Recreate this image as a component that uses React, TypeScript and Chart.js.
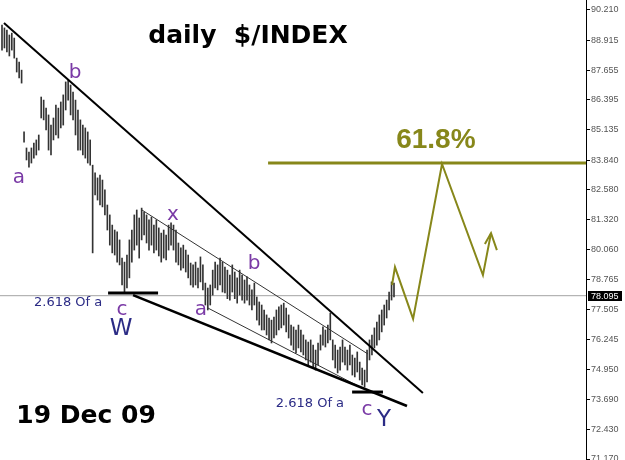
import React, { useEffect, useRef } from "react";
import { Chart, registerables } from "chart.js";
Chart.register(...registerables);

// ---- data (daily bars: high / low) ----
const highs = [
  89.57, 89.45, 89.36, 89.15, 89.23, 89.02, 88.17, 88.0, 87.66, 85.04,
  84.36, 84.19, 84.36, 84.57, 84.7, 84.91, 86.52, 86.39, 86.05, 85.76,
  85.33, 85.63, 86.18, 86.05, 86.31, 86.61, 87.16, 87.24, 87.03, 86.73,
  86.39, 85.97, 85.55, 85.33, 85.21, 85.04, 84.7, 83.63, 83.3, 83.09,
  83.21, 83.0, 82.58, 81.94, 81.52, 81.09, 80.88, 80.8, 80.46, 79.69,
  79.52, 79.82, 80.46, 80.88, 81.52, 81.73, 81.39, 81.81, 81.64, 81.52,
  81.31, 81.43, 81.09, 81.31, 80.97, 80.75, 80.88, 80.67, 81.09, 81.18,
  81.09, 80.88, 80.33, 80.12, 80.24, 80.03, 79.82, 79.48, 79.4, 79.52,
  79.27, 79.74, 79.4, 78.63, 78.42, 78.55, 79.18, 79.52, 79.4, 79.69,
  79.52, 79.31, 79.18, 78.97, 79.4, 79.1, 78.85, 79.18, 78.97, 78.76,
  78.89, 78.55, 78.34, 78.63, 78.04, 77.83, 77.7, 77.49, 77.28, 77.15,
  77.06, 77.19, 77.49, 77.62, 77.7, 77.78, 77.57, 77.28, 76.85, 76.77,
  76.64, 76.85, 76.64, 76.43, 76.22, 76.13, 76.22, 76.0, 75.79, 76.09,
  76.43, 76.77, 76.64, 76.85, 77.36, 76.22, 76.0, 75.79, 75.92, 76.22,
  75.92, 75.79, 76.0, 75.58, 75.45, 75.71, 75.28, 75.03, 74.94, 75.79,
  76.22, 76.43, 76.73, 76.98, 77.28, 77.49, 77.7, 77.91, 78.25, 78.68, 78.63,
];
const lows = [
  88.51, 88.6, 88.43, 88.26, 88.51, 88.17, 87.58, 87.33, 87.11, 84.61,
  83.85, 83.55, 83.72, 83.93, 84.06, 84.27, 85.63, 85.55, 85.12, 84.27,
  84.06, 84.7, 84.91, 84.78, 85.21, 85.33, 85.97, 86.39, 85.76, 85.55,
  84.91, 84.27, 84.27, 84.06, 83.93, 83.72, 83.63, 79.91, 82.37, 82.15,
  81.94, 81.86, 81.52, 80.88, 80.24, 79.91, 79.82, 79.52, 79.4, 78.55,
  78.25, 78.42, 78.85, 79.52, 80.03, 80.24, 79.69, 80.46, 80.67, 80.33,
  80.03, 80.24, 79.91, 80.03, 79.78, 79.52, 79.69, 79.61, 80.03, 80.24,
  80.03, 79.52, 79.4, 79.18, 79.27, 79.1, 78.85, 78.55, 78.46, 78.55,
  78.42, 78.68, 78.34, 77.7, 77.49, 77.7, 78.12, 78.42, 78.34, 78.55,
  78.25, 78.21, 77.97, 77.91, 78.25, 77.97, 77.78, 78.12, 77.91, 77.78,
  77.91, 77.7, 77.49, 77.7, 77.06, 76.85, 76.64, 76.64, 76.43, 76.22,
  76.09, 76.3, 76.43, 76.64, 76.73, 76.85, 76.56, 76.3, 76.0, 75.79,
  75.67, 75.88, 75.71, 75.58, 75.37, 75.16, 75.28, 75.03, 74.94, 75.16,
  75.79, 76.0, 75.92, 76.09, 76.22, 75.37, 75.03, 74.82, 74.94, 75.28,
  75.16, 74.94, 75.16, 74.73, 74.65, 74.86, 74.52, 74.31, 74.22, 74.44,
  75.37, 75.58, 75.88, 76.0, 76.22, 76.56, 76.85, 77.15, 77.49, 77.91, 78.04,
];
const yTicks = [
  90.21, 88.915, 87.655, 86.395, 85.135, 83.84, 82.58, 81.32, 80.06,
  78.765, 77.505, 76.245, 74.95, 73.69, 72.43, 71.17,
];
const lastPrice = 78.095;
const fibLevel = 83.72;
const yMin = 71.128;
const yMax = 90.634;
const xMin = -0.816;
const xMax = 238.37;

// annotation lines (bar index, price)
const upperTrend = [{ x: 0.8, y: 89.66 }, { x: 171.8, y: 73.97 }];
const lowerTrend = [{ x: 53.5, y: 78.12 }, { x: 165.3, y: 73.42 }];
const channelTop = [{ x: 57.1, y: 81.73 }, { x: 149.4, y: 75.62 }];
const channelBottom = [{ x: 84.1, y: 77.57 }, { x: 146.9, y: 74.18 }];
const lowW = [{ x: 43.3, y: 78.21 }, { x: 63.7, y: 78.21 }];
const lowY = [{ x: 142.9, y: 74.01 }, { x: 155.5, y: 74.01 }];
const fibLine = [{ x: 108.6, y: fibLevel }, { x: xMax, y: fibLevel }];
const priceLine = [{ x: xMin, y: lastPrice }, { x: xMax, y: lastPrice }];
const projection = [
  { x: 159.2, y: 78.55 }, { x: 160.4, y: 79.31 }, { x: 167.8, y: 77.11 },
  { x: 179.6, y: 83.68 }, { x: 196.3, y: 78.97 }, { x: 199.6, y: 80.75 },
];
const arrowHead = [{ x: 197.1, y: 80.29 }, { x: 199.6, y: 80.75 }, { x: 202.0, y: 80.03 }];

const PURPLE = "#7a3aa6";
const NAVY = "#2b2b85";
const OLIVE = "#87871a";

const labels = [
  { text: "daily  $/INDEX", x: 100.4, y: 89.07, color: "#000", font: 'bold 25px "DejaVu Sans"' },
  { text: "19 Dec 09", x: 34.3, y: 72.99, color: "#000", font: 'bold 25px "DejaVu Sans"' },
  { text: "61.8%", x: 177.1, y: 84.7, color: OLIVE, font: 'bold 28px "Liberation Sans"' },
  { text: "a", x: 6.94, y: 83.09, color: PURPLE, font: '20px "DejaVu Sans"' },
  { text: "b", x: 29.8, y: 87.54, color: PURPLE, font: '20px "DejaVu Sans"' },
  { text: "x", x: 69.8, y: 81.52, color: PURPLE, font: '20px "DejaVu Sans"' },
  { text: "b", x: 102.9, y: 79.44, color: PURPLE, font: '20px "DejaVu Sans"' },
  { text: "a", x: 81.2, y: 77.49, color: PURPLE, font: '20px "DejaVu Sans"' },
  { text: "c", x: 49.0, y: 77.49, color: PURPLE, font: '20px "DejaVu Sans"' },
  { text: "c", x: 149.0, y: 73.25, color: PURPLE, font: '20px "DejaVu Sans"' },
  { text: "W", x: 48.6, y: 76.68, color: NAVY, font: '23px "DejaVu Sans"' },
  { text: "Y", x: 155.9, y: 72.82, color: NAVY, font: '23px "DejaVu Sans"' },
  { text: "2.618 Of a", x: 27.0, y: 77.79, color: NAVY, font: '13px "DejaVu Sans"' },
  { text: "2.618 Of a", x: 125.7, y: 73.5, color: NAVY, font: '13px "DejaVu Sans"' },
];

const lineDs = (data: any[], color: string, width: number, order: number) => ({
  type: "line" as const,
  data,
  borderColor: color,
  borderWidth: width,
  pointRadius: 0,
  tension: 0,
  fill: false,
  order,
});

const overlay = {
  id: "overlay",
  afterDatasetsDraw(chart: any) {
    const { ctx, scales } = chart;
    const xs = scales.x;
    const ys = scales.y;
    ctx.save();
    ctx.textAlign = "center";
    ctx.textBaseline = "middle";
    for (const t of labels) {
      ctx.font = t.font;
      ctx.fillStyle = t.color;
      ctx.fillText(t.text, xs.getPixelForValue(t.x), ys.getPixelForValue(t.y));
    }
    ctx.restore();
  },
  afterDraw(chart: any) {
    const { ctx, scales } = chart;
    const ys = scales.y;
    const py = Math.round(ys.getPixelForValue(lastPrice));
    ctx.save();
    ctx.fillStyle = "#000";
    ctx.fillRect(ys.left + 2, py - 5, 34, 10);
    ctx.fillStyle = "#fff";
    ctx.font = '9px "Liberation Sans"';
    ctx.textAlign = "left";
    ctx.textBaseline = "middle";
    ctx.fillText(lastPrice.toFixed(3), ys.left + 5, py + 0.5);
    ctx.restore();
  },
};

export default function App() {
  const ref = useRef<HTMLCanvasElement>(null);
  useEffect(() => {
    if (!ref.current) return;
    const bars = highs.map((h, i) => ({ x: i, y: [lows[i], h] }));
    const chart = new Chart(ref.current, {
      type: "bar",
      data: {
        datasets: [
          lineDs(priceLine, "#a3a3a3", 1, 10) as any,
          {
            type: "bar",
            data: bars as any,
            backgroundColor: "#333",
            barThickness: 1,
            order: 5,
          },
          lineDs(upperTrend, "#000", 2, 2),
          lineDs(lowerTrend, "#000", 2.6, 2),
          lineDs(channelTop, "#333", 1, 3),
          lineDs(channelBottom, "#333", 1, 3),
          lineDs(lowW, "#000", 3, 2),
          lineDs(lowY, "#000", 3, 2),
          lineDs(fibLine, OLIVE, 3, 1),
          lineDs(projection, OLIVE, 2, 1),
          lineDs(arrowHead, OLIVE, 2, 1),
        ],
      },
      options: {
        animation: false,
        responsive: false,
        events: [],
        layout: { padding: 0 },
        plugins: { legend: { display: false }, tooltip: { enabled: false } },
        scales: {
          x: { type: "linear", min: xMin, max: xMax, display: false, offset: false, grid: { offset: false } },
          y: {
            position: "right",
            min: yMin,
            max: yMax,
            afterBuildTicks: (axis: any) => {
              axis.ticks = yTicks.map((v) => ({ value: v }));
            },
            afterFit: (axis: any) => {
              axis.width = 39;
              axis.paddingTop = 0;
              axis.paddingBottom = 0;
            },
            ticks: {
              autoSkip: false,
              padding: 1,
              color: "#555",
              font: { family: "Liberation Sans", size: 9 },
              callback: (v: any) => Number(v).toFixed(3),
            },
            grid: { drawOnChartArea: false, tickLength: 4, color: "#000" },
            border: { color: "#000", width: 1 },
          },
        },
      },
      plugins: [overlay],
    });
    return () => chart.destroy();
  }, []);
  return (
    <div style={{ position: "absolute", left: 0, top: 0, width: 625, height: 460, background: "#fff" }}>
      <canvas ref={ref} width={625} height={460} style={{ display: "block" }} />
    </div>
  );
}
